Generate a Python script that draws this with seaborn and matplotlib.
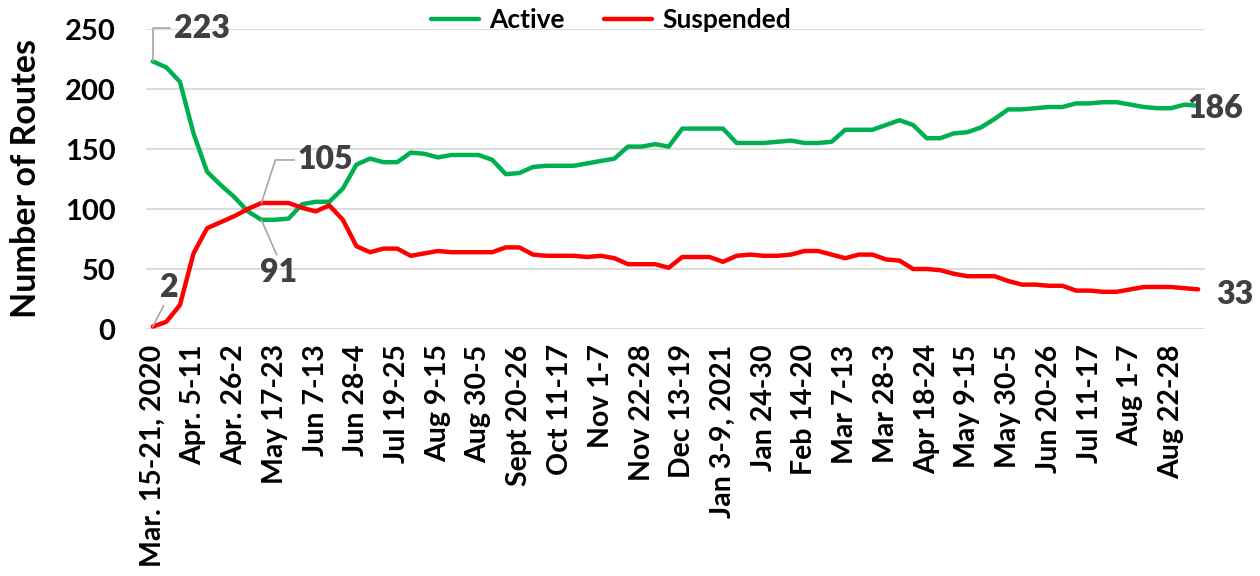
import pandas as pd
import matplotlib
matplotlib.use("Agg")
import matplotlib.pyplot as plt
import seaborn as sns

# weekly route counts, Mar 15-21 2020 onwards
active = [223, 218, 206, 163, 131, 120, 110, 98, 91, 91,
          92, 104, 106, 106, 117, 137, 142, 139, 139, 147,
          146, 143, 145, 145, 145, 141, 129, 130, 135, 136,
          136, 136, 138, 140, 142, 152, 152, 154, 152, 167,
          167, 167, 167, 155, 155, 155, 156, 157, 155, 155,
          156, 166, 166, 166, 170, 174, 170, 159, 159, 163,
          164, 168, 175, 183, 183, 184, 185, 185, 188, 188,
          189, 189, 187, 185, 184, 184, 187, 186]
suspended = [2, 6, 20, 63, 84, 89, 94, 100, 105, 105,
             105, 101, 98, 103, 91, 69, 64, 67, 67, 61,
             63, 65, 64, 64, 64, 64, 68, 68, 62, 61,
             61, 61, 60, 61, 59, 54, 54, 54, 51, 60,
             60, 60, 56, 61, 62, 61, 61, 62, 65, 65,
             62, 59, 62, 62, 58, 57, 50, 50, 49, 46,
             44, 44, 44, 40, 37, 37, 36, 36, 32, 32,
             31, 31, 33, 35, 35, 35, 34, 33]

# every third week is labelled
week_labels = ["Mar. 15-21, 2020", "Apr. 5-11", "Apr. 26-2", "May 17-23", "Jun 7-13",
               "Jun 28-4", "Jul 19-25", "Aug 9-15", "Aug 30-5", "Sept 20-26",
               "Oct 11-17", "Nov 1-7", "Nov 22-28", "Dec 13-19", "Jan 3-9, 2021",
               "Jan 24-30", "Feb 14-20", "Mar 7-13", "Mar 28-3", "Apr 18-24",
               "May 9-15", "May 30-5", "Jun 20-26", "Jul 11-17", "Aug 1-7",
               "Aug 22-28"]
label_step = 3

df = pd.DataFrame({"week": range(len(active)), "Active": active, "Suspended": suspended})
long_df = df.melt(id_vars="week", var_name="status", value_name="routes")

sns.set_theme(style="whitegrid")
plt.rcParams["font.family"] = ["Lato", "DejaVu Sans"]

fig = plt.figure(figsize=(12.6, 5.76), dpi=100)
ax = fig.add_axes([146 / 1260, 1 - 329 / 576, (1205 - 146) / 1260, 300 / 576])

sns.lineplot(data=long_df, x="week", y="routes", hue="status",
             palette={"Active": "#00B050", "Suspended": "#FF0000"},
             linewidth=3.2, ax=ax, legend=True)

ax.set_xlim(-0.5, len(active) - 0.5)
ax.set_ylim(0, 250)
ax.set_yticks(range(0, 251, 50))
ax.set_xticks(range(0, len(week_labels) * label_step, label_step))
ax.set_xticklabels(week_labels, rotation=90, fontsize=20.5, fontweight="bold")
for t in ax.get_yticklabels():
    t.set_fontsize(21)
    t.set_fontweight("bold")
ax.tick_params(axis="both", length=0, colors="black")
ax.tick_params(axis="y", pad=22)
ax.tick_params(axis="x", pad=11)
ax.grid(axis="x", visible=False)
ax.grid(axis="y", color="#D9D9D9", linewidth=1.3)
for s in ax.spines.values():
    s.set_visible(False)
ax.set_xlabel("")
ax.set_ylabel("Number of Routes", labelpad=16)
ax.yaxis.label.set_fontsize(24.5)
ax.yaxis.label.set_fontweight("bold")
ax.yaxis.label.set_color("black")

leg = ax.legend(loc="center", bbox_to_anchor=(611 / 1260, 1 - 20 / 576), bbox_transform=fig.transFigure,
                ncol=2, frameon=False, prop={"weight": "bold", "size": 19},
                handlelength=1.8, columnspacing=1.5, handletextpad=0.4)
for t in leg.get_texts():
    t.set_color("black")

# data labels with leader lines
lab_kw = dict(fontsize=23, fontweight="heavy", color="#404040")
lead = dict(arrowstyle="-", color="#A6A6A6", lw=1.2, shrinkA=0, shrinkB=0)
last = len(active) - 1
ax.annotate(str(active[0]), xy=(0, active[0]), xytext=(15, 24), textcoords="offset points",
            ha="left", va="center",
            arrowprops=dict(connectionstyle="angle,angleA=0,angleB=90", **lead), **lab_kw)
ax.annotate(str(suspended[0]), xy=(0, suspended[0]), xytext=(5, 28), textcoords="offset points",
            ha="left", va="center",
            arrowprops=dict(connectionstyle="arc3", relpos=(0.3, 0), **lead), **lab_kw)
ax.annotate(str(suspended[8]), xy=(8, suspended[8]), xytext=(26, 31), textcoords="offset points",
            ha="left", va="center",
            arrowprops=dict(connectionstyle="angle,angleA=0,angleB=72", **lead), **lab_kw)
ax.annotate(str(active[8]), xy=(8, active[8]), xytext=(12, -38), textcoords="offset points",
            ha="center", va="center",
            arrowprops=dict(connectionstyle="arc3", relpos=(0.5, 1.0), **lead), **lab_kw)
ax.annotate(str(active[last]), xy=(last, active[last]), xytext=(-8, -2), textcoords="offset points",
            ha="left", va="center", **lab_kw)
ax.annotate(str(suspended[last]), xy=(last, suspended[last]), xytext=(13, -4), textcoords="offset points",
            ha="left", va="center", **lab_kw)

fig.savefig("out.png", dpi=100)
